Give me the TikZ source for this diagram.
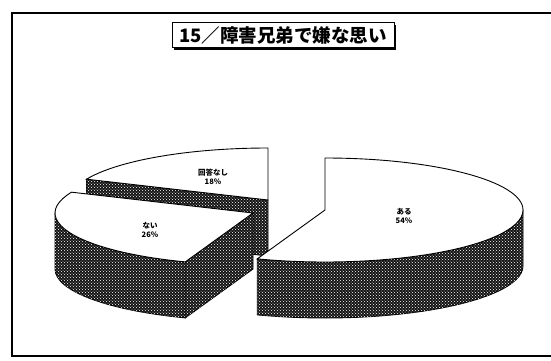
\documentclass[tikz,border=0pt]{standalone}
\usepackage{fontspec}
\newfontfamily\cjk{Noto Sans CJK JP}
\usetikzlibrary{patterns,shadows}

\begin{document}
\begin{tikzpicture}[x=1pt,y=1pt,
    side/.style={draw=black,line width=0.9pt,fill=black!92,postaction={pattern=crosshatch dots,pattern color=white}},
    face/.style={draw=black,line width=0.9pt,fill=white},
    pielabel/.style={font=\cjk\bfseries\fontsize{7.5}{8.5}\selectfont,align=center,inner sep=0pt}]

    \useasboundingbox (0,0) rectangle (551,360);
    \clip (0,0) rectangle (551,360);

    % outer frame %
    \draw[line width=1.1pt] (560,347) -- (12,347) -- (12,4) -- (560,4);

    % slice centres %
    \coordinate (cA) at (325,150); % aru %
    \coordinate (cN) at (253,147); % nai %
    \coordinate (cK) at (268,160); % kaitou nashi %

    % kaitou nashi slice %
    \draw[side] (cK) -- ([shift={(cK)}]156.4:198 and 52) -- ++(0,-56) -- ([shift={(cK)}]0,-56) -- cycle;
    \draw[face] (cK) -- ++(0,52) arc[start angle=90,end angle=156.4,x radius=198,y radius=52] -- cycle;

    % nai slice %
    \draw[side] ([shift={(cN)}]180:198 and 52) arc[start angle=180,end angle=250,x radius=198,y radius=52]
        -- ++(0,-56) arc[start angle=250,end angle=180,x radius=198,y radius=52] -- cycle;
    \draw[side] (cN) -- ([shift={(cN)}]250:198 and 52) -- ++(0,-56) -- ([shift={(cN)}]0,-56) -- cycle;
    \draw[face] (cN) -- ([shift={(cN)}]156.4:198 and 52) arc[start angle=156.4,end angle=250,x radius=198,y radius=52] -- cycle;

    % aru slice %
    \draw[side] ([shift={(cA)}]250:198 and 52) arc[start angle=250,end angle=360,x radius=198,y radius=52]
        -- ++(0,-56) arc[start angle=360,end angle=250,x radius=198,y radius=52] -- cycle;
    \draw[face] (cA) -- ++(0,52) arc[start angle=90,end angle=-110,x radius=198,y radius=52] -- cycle;

    % labels %
    \node[pielabel] (aru) at (404,144) {ある\\54\%};
    \node[pielabel] (nai) at (150,130) {ない\\26\%};
    \node[pielabel] (kaitou) at (213,183) {回答なし\\18\%};

    % title %
    \node[draw=black,line width=0.9pt,fill=white,minimum width=222pt,minimum height=25pt,inner sep=0pt,
        drop shadow={shadow xshift=2pt,shadow yshift=-2pt,fill=black,opacity=1},
        font=\cjk\bfseries\fontsize{18.5}{21}\selectfont] (title) at (283,325) {15／障害兄弟で嫌な思い};

\end{tikzpicture}
\end{document}
